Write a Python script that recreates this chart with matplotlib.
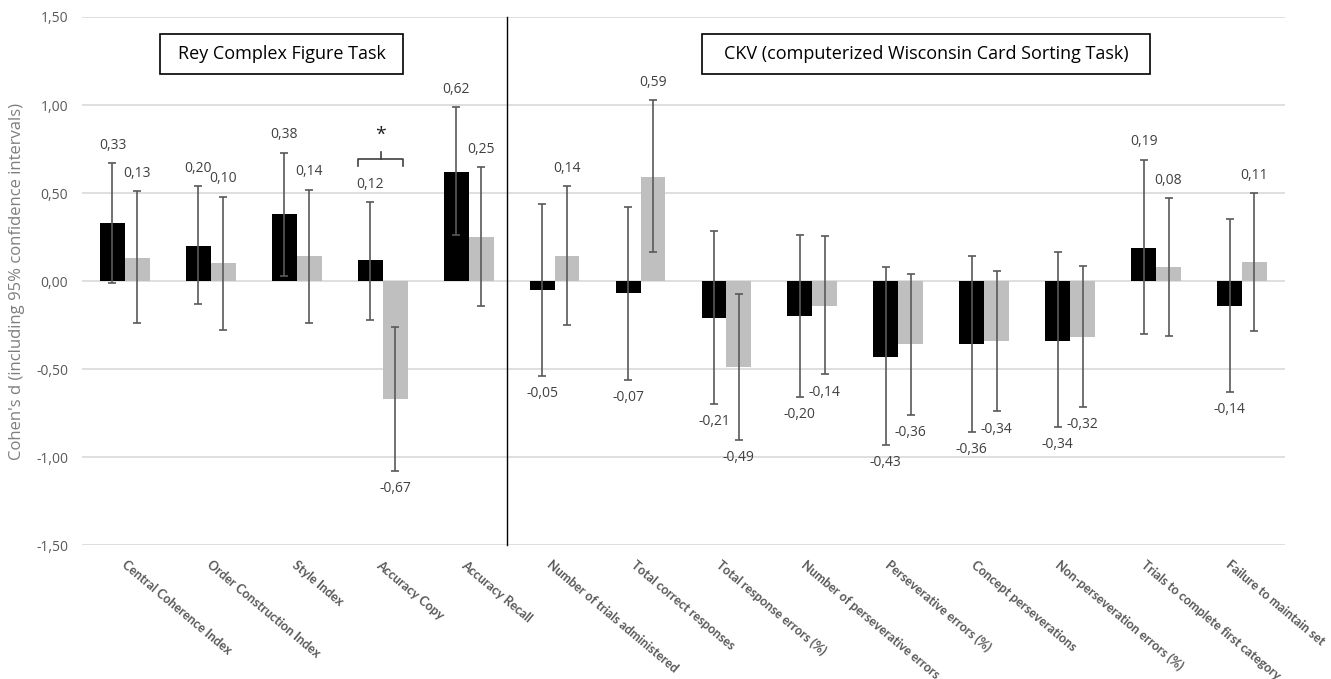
import numpy as np
import matplotlib
matplotlib.use("Agg")
import matplotlib.pyplot as plt
from matplotlib.patches import Rectangle
from matplotlib.transforms import blended_transform_factory

plt.rcParams['font.family'] = ['Open Sans', 'DejaVu Sans']

# Cohen's d per measure, two groups (black / grey), with 95% CI
labels = ["Central Coherence Index", "Order Construction Index", "Style Index",
          "Accuracy Copy", "Accuracy Recall", "Number of trials administered",
          "Total correct responses", "Total response errors (%)",
          "Number of perseverative errors", "Perseverative errors (%)",
          "Concept perseverations", "Non-perseveration errors (%)",
          "Trials to complete first category", "Failure to maintain set"]
d_black = [0.33, 0.20, 0.38, 0.12, 0.62, -0.05, -0.07, -0.21, -0.20, -0.43, -0.36, -0.34, 0.19, -0.14]
lo_black = [-0.01, -0.13, 0.03, -0.22, 0.26, -0.54, -0.56, -0.70, -0.66, -0.93, -0.855, -0.83, -0.30, -0.63]
hi_black = [0.67, 0.54, 0.73, 0.45, 0.99, 0.44, 0.42, 0.285, 0.26, 0.08, 0.145, 0.165, 0.69, 0.35]
d_grey = [0.13, 0.10, 0.14, -0.67, 0.25, 0.14, 0.59, -0.49, -0.14, -0.36, -0.34, -0.32, 0.08, 0.11]
lo_grey = [-0.24, -0.28, -0.24, -1.08, -0.14, -0.25, 0.165, -0.90, -0.53, -0.76, -0.74, -0.715, -0.31, -0.285]
hi_grey = [0.51, 0.48, 0.52, -0.26, 0.65, 0.54, 1.03, -0.075, 0.255, 0.04, 0.057, 0.085, 0.47, 0.50]

fig = plt.figure(figsize=(13.31, 6.79), dpi=100)
ax = fig.add_axes([0.0616, 0.197, 0.9038, 0.778])

x = np.arange(len(labels))
w = 0.29
ecol = '#595959'

for vals, lo, hi, col, off in [(d_black, lo_black, hi_black, '#000000', -w / 2),
                               (d_grey, lo_grey, hi_grey, '#bfbfbf', w / 2)]:
    vals = np.array(vals)
    err = [vals - np.array(lo), np.array(hi) - vals]
    ax.bar(x + off, vals, w, color=col, zorder=2)
    ax.errorbar(x + off, vals, yerr=err, fmt='none', ecolor=ecol, elinewidth=1.2,
                capsize=3, capthick=1.2, zorder=3)
    for xi, v, l, h in zip(x + off, vals, lo, hi):
        ty = h + 0.10 if v >= 0 else l - 0.10
        ax.text(xi, ty, f"{v:.2f}".replace('.', ','), ha='center', va='center',
                fontsize=10, color='#404040')

ax.set_xlim(-0.5, len(labels) - 0.5)
ax.set_ylim(-1.5, 1.5)
yt = np.arange(-1.5, 1.51, 0.5)
ax.set_yticks(yt)
ax.set_yticklabels([f"{t:.2f}".replace('.', ',') for t in yt], fontsize=10, color='#595959')
ax.yaxis.grid(True, color='#d9d9d9', linewidth=1.2, zorder=0)
ax.set_axisbelow(True)
for s in ax.spines.values():
    s.set_visible(False)
ax.tick_params(axis='both', length=0)
ax.tick_params(axis='y', pad=10)

# category labels, drawn by hand so they can drift slightly left like the original
ax.set_xticks(x)
ax.set_xticklabels([])
trans = blended_transform_factory(ax.transData, ax.transAxes)
for i, lab in enumerate(labels):
    ax.text(x[i] + 0.03 - 0.012 * i, -0.025, lab, transform=trans, rotation=-40,
            ha='left', va='top', rotation_mode='anchor', fontsize=9, fontweight='bold',
            color='#595959', family=['Liberation Sans Narrow', 'Lato', 'DejaVu Sans'])

ax.set_ylabel("Cohen's d (including 95% confidence intervals)", fontsize=12, color='#7f7f7f', labelpad=8)

# divider between the two tasks
ax.plot([4.45, 4.45], [-1.5, 1.5], color='black', linewidth=1, zorder=4, clip_on=False)

# task title boxes
ax.add_patch(Rectangle((0.41, 1.176), 2.83, 0.227, facecolor='white', edgecolor='black', linewidth=1.2, zorder=5))
ax.text(1.825, 1.29, "Rey Complex Figure Task", ha='center', va='center', fontsize=13, zorder=6)
ax.add_patch(Rectangle((6.72, 1.176), 5.21, 0.227, facecolor='white', edgecolor='black', linewidth=1.2, zorder=5))
ax.text(9.325, 1.29, "CKV (computerized Wisconsin Card Sorting Task)", ha='center', va='center', fontsize=13, zorder=6)

# significance bracket on Accuracy Copy
bx0, bx1, by = 2.71, 3.24, 0.693
ax.plot([bx0, bx0, bx1, bx1], [0.653, by, by, 0.653], color='#404040', linewidth=1.2)
ax.plot([(bx0 + bx1) / 2] * 2, [by, 0.733], color='#404040', linewidth=1.2)
ax.text((bx0 + bx1) / 2, 0.83, "*", ha='center', va='center', fontsize=14, color='#202020')

fig.savefig("out.png", dpi=100)
